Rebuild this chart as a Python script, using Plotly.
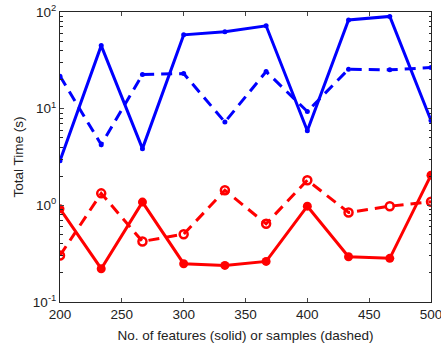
import plotly.graph_objects as go

x_vals = [200, 233.33, 266.67, 300, 333.33, 366.67, 400, 433.33, 466.67, 500]
blue_solid = [2.9, 44.9, 3.86, 58, 62.6, 72, 5.9, 82.7, 90, 7.55]
blue_dashed = [21.7, 4.24, 22.5, 23.1, 7.27, 24.2, 9.35, 25.6, 25.2, 26.6]
red_solid = [0.92, 0.221, 1.08, 0.249, 0.239, 0.263, 0.98, 0.294, 0.283, 2.05]
red_dashed = [0.303, 1.33, 0.423, 0.503, 1.43, 0.644, 1.82, 0.843, 0.98, 1.09]

x_ticks = [200, 250, 300, 350, 400, 450, 500]
y_ticks = [0.1, 1, 10, 100]
y_tick_text = ["10<sup>-1</sup>", "10<sup>0</sup>", "10<sup>1</sup>", "10<sup>2</sup>"]

BLUE = "#0000ff"
RED = "#ff0000"
DASH = "11px,7px"

fig = go.Figure()
fig.add_trace(go.Scatter(x=x_vals, y=blue_solid, mode="lines+markers",
                         line=dict(color=BLUE, width=3),
                         marker=dict(symbol="circle", size=5, color=BLUE)))
fig.add_trace(go.Scatter(x=x_vals, y=blue_dashed, mode="lines+markers",
                         line=dict(color=BLUE, width=3, dash=DASH),
                         marker=dict(symbol="circle", size=5, color=BLUE)))
fig.add_trace(go.Scatter(x=x_vals, y=red_solid, mode="lines+markers",
                         line=dict(color=RED, width=3),
                         marker=dict(symbol="circle", size=9, color=RED)))
fig.add_trace(go.Scatter(x=x_vals, y=red_dashed, mode="lines+markers",
                         line=dict(color=RED, width=3, dash=DASH),
                         marker=dict(symbol="circle-open", size=8, color=RED,
                                     line=dict(width=2.5, color=RED))))

axis_font = dict(family="Liberation Sans, Arial, sans-serif", size=13.5, color="#222222")

fig.update_layout(
    width=441, height=349,
    margin=dict(l=60, r=10, t=12, b=47),
    paper_bgcolor="white", plot_bgcolor="white",
    showlegend=False,
    hovermode=False,
    font=axis_font,
    xaxis=dict(range=[200, 500], tickvals=x_ticks, ticks="inside", ticklen=4,
               showline=True, linecolor="#262626", linewidth=1, mirror="ticks",
               showgrid=False, zeroline=False, tickfont=axis_font, automargin=False,
               ticklabeloverflow="allow",
               title=dict(text="No. of features (solid) or samples (dashed)", font=axis_font, standoff=9)),
    yaxis=dict(type="log", range=[-1, 2], tickvals=y_ticks, ticktext=y_tick_text,
               ticks="inside", ticklen=4,
               minor=dict(ticks="inside", ticklen=2.5, tickvals=[v * m for v in [0.1, 1, 10] for m in range(2, 10)],
                          showgrid=False, tickcolor="#262626"),
               showline=True, linecolor="#262626", linewidth=1, mirror="ticks",
               showgrid=False, zeroline=False, tickfont=axis_font, automargin=False,
               ticklabeloverflow="allow",
               title=dict(text="Total Time (s)", font=axis_font, standoff=6)),
)

fig.write_html("out.html", config={"displayModeBar": False},
               post_script="document.body.style.margin='0';document.body.style.overflow='hidden';")
